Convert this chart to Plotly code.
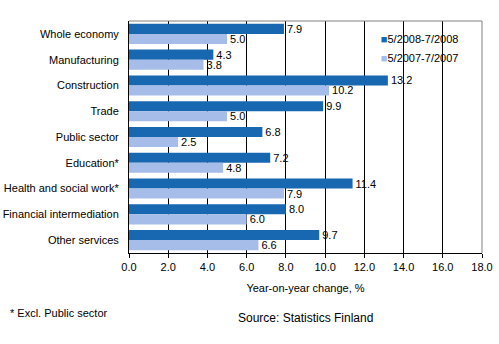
import plotly.graph_objects as go

categories = [
    "Whole economy", "Manufacturing", "Construction", "Trade", "Public sector",
    "Education*", "Health and social work*", "Financial intermediation", "Other services",
]
series_2008 = [7.9, 4.3, 13.2, 9.9, 6.8, 7.2, 11.4, 8.0, 9.7]
series_2007 = [5.0, 3.8, 10.2, 5.0, 2.5, 4.8, 7.9, 6.0, 6.6]
name_2008 = "5/2008-7/2008"
name_2007 = "5/2007-7/2007"
x_ticks = [0, 2, 4, 6, 8, 10, 12, 14, 16, 18]
x_tick_labels = [f"{v:.1f}" for v in x_ticks]

dark = "#1767B1"
light = "#A6BDEA"
font_family = "Liberation Sans, Arial, sans-serif"

fig = go.Figure()
for vals, name, col in [(series_2008, name_2008, dark), (series_2007, name_2007, light)]:
    fig.add_trace(go.Bar(
        y=categories, x=vals, orientation="h", name=name,
        marker=dict(color=col, line=dict(width=0)),
        text=[f"{v:.1f}" for v in vals], textposition="outside",
        textfont=dict(size=11, color="black", family=font_family),
        constraintext="none", cliponaxis=False, showlegend=False,
    ))
    # legend entry: coloured square glyph right against the label
    fig.add_trace(go.Scatter(
        x=[None], y=[None], mode="lines", line=dict(width=0, color="rgba(0,0,0,0)"),
        name=f'<span style="color:{col}">■</span>{name}',
    ))

fig.update_layout(
    width=499, height=344,
    margin=dict(l=129, r=17, t=21, b=91),
    paper_bgcolor="white", plot_bgcolor="white",
    barmode="group", bargap=0.22, bargroupgap=0,
    font=dict(family=font_family, size=11, color="black"),
    legend=dict(x=0.600, y=0.985, xanchor="left", yanchor="top",
                bgcolor="rgba(0,0,0,0)", font=dict(size=11),
                itemwidth=30, tracegroupgap=0),
    xaxis=dict(range=[0, 18], tickvals=x_ticks, ticktext=x_tick_labels,
               showgrid=True, gridcolor="black", gridwidth=1, automargin=False,
               zeroline=False, showline=True, linecolor="black", linewidth=1,
               ticks="outside", ticklen=4, tickcolor="black",
               title=dict(text="Year-on-year change, %", standoff=12, font=dict(size=11))),
    yaxis=dict(autorange="reversed", showgrid=False, zeroline=False, automargin=False,
               showline=True, linecolor="black", linewidth=1,
               ticks="", ticklabelstandoff=7),
    shapes=[
        dict(type="line", xref="paper", yref="paper", x0=0, x1=1, y0=1, y1=1,
             line=dict(color="#808080", width=1)),
        dict(type="line", xref="paper", yref="paper", x0=1, x1=1, y0=0, y1=1,
             line=dict(color="#808080", width=1)),
    ],
    annotations=[
        dict(text="Source: Statistics Finland", xref="paper", yref="paper",
             x=0.5, y=-0.28, xanchor="center", yanchor="middle",
             showarrow=False, font=dict(size=12)),
        dict(text="* Excl. Public sector", xref="paper", yref="paper",
             x=-0.343, y=-0.26, xanchor="left", yanchor="middle",
             showarrow=False, font=dict(size=11)),
    ],
)

fig.write_html("out.html")
